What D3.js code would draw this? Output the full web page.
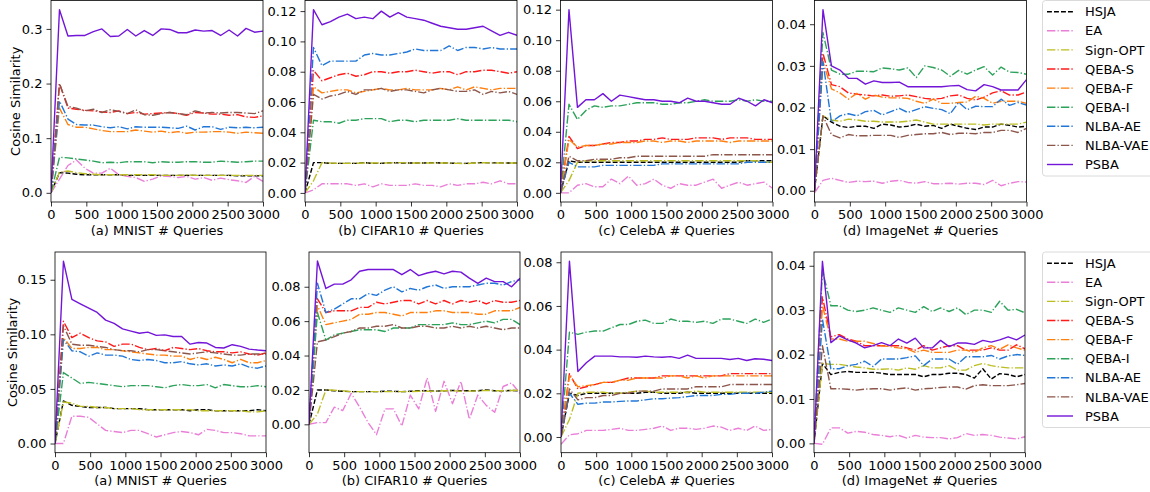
<!DOCTYPE html>
<html><head><meta charset="utf-8">
<script src="https://cdn.jsdelivr.net/npm/d3@7/dist/d3.min.js"></script>
<style>
body{margin:0;background:#fff}
svg text{font-family:"DejaVu Sans",sans-serif;font-size:13px;fill:#000}
</style></head>
<body><svg id="chart" width="1150" height="492"></svg>
<script>
// ---------------- DATA ----------------
const queries = [0,120,240,360,480,600,720,840,960,1080,1200,1320,1440,1560,1680,1800,1920,2040,2160,2280,2400,2520,2640,2760,2880,3000];
const seriesNames = ["HSJA","EA","Sign-OPT","QEBA-S","QEBA-F","QEBA-I","NLBA-AE","NLBA-VAE","PSBA"];
const xLabels = ["(a) MNIST # Queries","(b) CIFAR10 # Queries","(c) CelebA # Queries","(d) ImageNet # Queries"];
const xTicks = [0,500,1000,1500,2000,2500,3000];
const yLabel = "Cosine Similarity";

// y tick values per panel (row 1: a,b,c,d ; row 2: a,b,c,d)
const yTicksTop = [[0,0.1,0.2,0.3],[0,0.02,0.04,0.06,0.08,0.10,0.12],[0,0.02,0.04,0.06,0.08,0.10,0.12],[0,0.01,0.02,0.03,0.04]];
const yTickFmtTop = [".1f",".2f",".2f",".2f"];
const yTicksBot = [[0,0.05,0.10,0.15],[0,0.02,0.04,0.06,0.08],[0,0.02,0.04,0.06,0.08],[0,0.01,0.02,0.03,0.04]];
const yTickFmtBot = [".2f",".2f",".2f",".2f"];
// y limits per panel
const yLimTop = [[-0.0168,0.352],[-0.006,0.127],[-0.006,0.126],[-0.0027,0.0457]];
const yLimBot = [[-0.0084,0.1754],[-0.0165,0.1002],[-0.0072,0.0847],[-0.0021,0.0431]];

// series values, order = seriesNames
const topMNIST = [
 [0,0.037,0.036,0.034,0.033,0.033,0.033,0.033,0.033,0.032,0.032,0.032,0.032,0.032,0.032,0.032,0.032,0.032,0.032,0.032,0.032,0.032,0.031,0.031,0.031,0.031],
 [0,0.025,0.050,0.060,0.045,0.036,0.036,0.045,0.033,0.030,0.028,0.021,0.025,0.031,0.030,0.028,0.030,0.025,0.028,0.023,0.027,0.024,0.022,0.019,0.030,0.021],
 [0,0.038,0.040,0.037,0.035,0.034,0.033,0.033,0.033,0.033,0.033,0.033,0.033,0.032,0.032,0.032,0.033,0.032,0.032,0.032,0.032,0.032,0.032,0.032,0.032,0.032],
 [0,0.200,0.155,0.153,0.151,0.150,0.148,0.147,0.150,0.145,0.147,0.144,0.145,0.146,0.147,0.145,0.142,0.147,0.146,0.144,0.144,0.142,0.143,0.139,0.138,0.141],
 [0,0.155,0.125,0.120,0.120,0.117,0.114,0.112,0.112,0.112,0.115,0.113,0.111,0.113,0.110,0.112,0.109,0.111,0.111,0.112,0.112,0.111,0.109,0.111,0.110,0.109],
 [0,0.065,0.064,0.062,0.060,0.058,0.055,0.056,0.055,0.057,0.057,0.057,0.055,0.057,0.056,0.056,0.057,0.057,0.056,0.056,0.058,0.057,0.056,0.057,0.058,0.058],
 [0,0.168,0.135,0.125,0.124,0.124,0.121,0.119,0.121,0.117,0.121,0.120,0.120,0.120,0.119,0.118,0.122,0.115,0.121,0.121,0.116,0.120,0.119,0.120,0.119,0.120],
 [0,0.200,0.158,0.155,0.150,0.153,0.147,0.152,0.149,0.145,0.152,0.143,0.142,0.145,0.147,0.145,0.143,0.150,0.146,0.147,0.146,0.147,0.147,0.146,0.145,0.150],
 [0,0.335,0.287,0.288,0.288,0.295,0.300,0.286,0.287,0.299,0.287,0.297,0.288,0.300,0.299,0.293,0.293,0.298,0.296,0.297,0.288,0.298,0.287,0.301,0.294,0.296]
];
const topCIFAR = [
 [0,0.020,0.020,0.0195,0.0195,0.0195,0.0195,0.020,0.0195,0.0195,0.020,0.0198,0.0197,0.0197,0.0197,0.020,0.0197,0.0197,0.0195,0.0195,0.0198,0.020,0.0198,0.0198,0.0197,0.0197],
 [0,0.002,0.006,0.006,0.006,0.006,0.005,0.006,0.004,0.006,0.005,0.005,0.005,0.006,0.005,0.005,0.004,0.006,0.005,0.006,0.006,0.007,0.006,0.008,0.006,0.006],
 [0,0.008,0.020,0.0197,0.0196,0.0195,0.0196,0.0197,0.0197,0.0197,0.0198,0.020,0.0198,0.0197,0.0197,0.0197,0.0197,0.0197,0.0195,0.0193,0.0197,0.020,0.0198,0.0197,0.0197,0.0197],
 [0,0.081,0.074,0.076,0.078,0.079,0.077,0.078,0.080,0.080,0.079,0.080,0.080,0.081,0.080,0.079,0.080,0.080,0.078,0.080,0.080,0.081,0.081,0.080,0.079,0.080],
 [0,0.070,0.066,0.067,0.068,0.068,0.066,0.067,0.068,0.069,0.068,0.068,0.069,0.068,0.068,0.068,0.069,0.068,0.070,0.068,0.070,0.069,0.068,0.069,0.069,0.069],
 [0,0.048,0.047,0.047,0.046,0.048,0.048,0.049,0.049,0.049,0.047,0.048,0.048,0.047,0.048,0.048,0.048,0.048,0.049,0.048,0.048,0.048,0.048,0.048,0.048,0.047],
 [0,0.096,0.084,0.087,0.087,0.087,0.087,0.091,0.092,0.091,0.091,0.092,0.093,0.095,0.094,0.094,0.094,0.097,0.094,0.096,0.096,0.095,0.096,0.095,0.095,0.095],
 [0,0.065,0.062,0.064,0.065,0.067,0.065,0.068,0.068,0.069,0.067,0.068,0.068,0.067,0.066,0.068,0.069,0.068,0.067,0.067,0.068,0.065,0.067,0.066,0.067,0.065],
 [0,0.121,0.111,0.113,0.116,0.118,0.115,0.116,0.115,0.120,0.116,0.119,0.116,0.115,0.114,0.112,0.110,0.109,0.108,0.108,0.109,0.110,0.107,0.104,0.106,0.104]
];
const topCelebA = [
 [0,0.021,0.020,0.020,0.020,0.020,0.020,0.020,0.020,0.020,0.020,0.020,0.020,0.020,0.020,0.020,0.020,0.020,0.020,0.020,0.020,0.020,0.021,0.021,0.021,0.021],
 [0,0.000,0.005,0.006,0.004,0.004,0.009,0.006,0.011,0.005,0.006,0.009,0.005,0.003,0.006,0.005,0.005,0.007,0.009,0.003,0.005,0.007,0.005,0.006,0.007,0.003],
 [0,0.008,0.020,0.021,0.021,0.021,0.021,0.021,0.021,0.021,0.021,0.021,0.021,0.021,0.021,0.021,0.021,0.021,0.021,0.021,0.021,0.021,0.021,0.021,0.020,0.020],
 [0,0.037,0.029,0.031,0.031,0.032,0.033,0.033,0.034,0.034,0.035,0.035,0.036,0.035,0.035,0.035,0.036,0.036,0.036,0.035,0.036,0.036,0.036,0.035,0.035,0.035],
 [0,0.035,0.030,0.031,0.031,0.032,0.032,0.033,0.033,0.033,0.034,0.034,0.033,0.034,0.034,0.033,0.034,0.034,0.034,0.034,0.033,0.034,0.034,0.034,0.034,0.034],
 [0,0.058,0.048,0.054,0.057,0.056,0.057,0.057,0.058,0.059,0.059,0.059,0.058,0.058,0.059,0.059,0.060,0.061,0.060,0.060,0.060,0.061,0.060,0.061,0.060,0.060],
 [0,0.020,0.017,0.017,0.017,0.018,0.018,0.018,0.018,0.018,0.018,0.018,0.019,0.019,0.019,0.019,0.019,0.019,0.019,0.019,0.019,0.019,0.020,0.020,0.020,0.020],
 [0,0.024,0.021,0.021,0.022,0.022,0.022,0.023,0.023,0.024,0.024,0.024,0.024,0.024,0.024,0.024,0.024,0.024,0.025,0.025,0.025,0.025,0.025,0.025,0.025,0.025],
 [0,0.120,0.056,0.061,0.061,0.065,0.060,0.064,0.063,0.062,0.061,0.061,0.060,0.060,0.059,0.062,0.060,0.060,0.059,0.058,0.058,0.062,0.060,0.057,0.061,0.059]
];
const topImageNet = [
 [0,0.018,0.0165,0.0155,0.0152,0.0155,0.0155,0.015,0.016,0.0158,0.0153,0.0155,0.016,0.0155,0.0157,0.015,0.016,0.0155,0.015,0.0147,0.0153,0.0153,0.016,0.0157,0.0153,0.0155],
 [-0.0005,0.0025,0.003,0.0025,0.002,0.0023,0.0022,0.0023,0.0018,0.0023,0.0025,0.002,0.0018,0.0022,0.0017,0.0017,0.0018,0.0016,0.0018,0.0018,0.0015,0.0025,0.0012,0.0018,0.0022,0.0021],
 [0,0.018,0.017,0.0167,0.0172,0.017,0.0167,0.0167,0.0165,0.0165,0.0165,0.0167,0.017,0.0165,0.016,0.016,0.016,0.016,0.016,0.016,0.0158,0.016,0.016,0.016,0.016,0.0165],
 [0,0.033,0.0255,0.025,0.0235,0.0232,0.023,0.0228,0.023,0.0227,0.0228,0.023,0.0226,0.0222,0.022,0.0222,0.0228,0.023,0.0222,0.0218,0.0225,0.0235,0.024,0.023,0.023,0.0237],
 [0,0.031,0.0245,0.0235,0.022,0.0234,0.022,0.023,0.0225,0.0223,0.0223,0.0222,0.0215,0.021,0.022,0.021,0.021,0.0212,0.0213,0.0227,0.0222,0.021,0.0215,0.0215,0.0215,0.021],
 [0,0.038,0.029,0.028,0.028,0.0287,0.0287,0.0286,0.0295,0.0293,0.029,0.0295,0.0272,0.030,0.0296,0.029,0.0275,0.0289,0.028,0.029,0.0298,0.0278,0.0297,0.0285,0.0284,0.028],
 [0,0.031,0.0165,0.018,0.0185,0.018,0.019,0.0193,0.0182,0.019,0.0198,0.0188,0.0195,0.0202,0.0198,0.0195,0.0185,0.0212,0.0195,0.0203,0.0202,0.0202,0.022,0.0205,0.0212,0.0206],
 [0,0.018,0.0135,0.0127,0.0135,0.0132,0.0132,0.0133,0.0133,0.0133,0.0128,0.0133,0.0135,0.0137,0.0137,0.014,0.0135,0.0138,0.0138,0.0137,0.014,0.014,0.0145,0.0145,0.014,0.015],
 [0,0.0435,0.030,0.029,0.027,0.027,0.0256,0.0264,0.026,0.026,0.0261,0.025,0.025,0.025,0.025,0.025,0.0252,0.0253,0.0243,0.024,0.0255,0.025,0.0242,0.0242,0.0242,0.0267]
];
const botMNIST = [
 [0,0.039,0.035,0.034,0.033,0.033,0.033,0.032,0.032,0.032,0.032,0.031,0.031,0.031,0.031,0.031,0.030,0.031,0.031,0.030,0.030,0.030,0.030,0.030,0.031,0.030],
 [0,0.000,0.025,0.025,0.024,0.018,0.012,0.011,0.010,0.012,0.012,0.009,0.006,0.008,0.010,0.011,0.010,0.008,0.013,0.012,0.010,0.010,0.009,0.007,0.007,0.007],
 [0,0.038,0.037,0.034,0.034,0.033,0.033,0.032,0.032,0.032,0.031,0.031,0.031,0.031,0.031,0.031,0.031,0.030,0.030,0.030,0.030,0.030,0.030,0.029,0.029,0.030],
 [0,0.112,0.097,0.101,0.097,0.094,0.093,0.089,0.091,0.091,0.088,0.086,0.087,0.085,0.088,0.087,0.086,0.087,0.085,0.084,0.084,0.083,0.084,0.082,0.081,0.083],
 [0,0.097,0.087,0.087,0.088,0.088,0.086,0.086,0.085,0.084,0.083,0.082,0.081,0.081,0.080,0.080,0.077,0.079,0.077,0.079,0.077,0.074,0.077,0.074,0.074,0.076],
 [0,0.065,0.060,0.055,0.056,0.055,0.054,0.053,0.052,0.053,0.053,0.053,0.052,0.051,0.053,0.054,0.053,0.053,0.054,0.051,0.054,0.053,0.052,0.052,0.053,0.052],
 [0,0.095,0.085,0.084,0.080,0.083,0.081,0.081,0.080,0.077,0.076,0.077,0.076,0.074,0.074,0.075,0.073,0.072,0.073,0.071,0.072,0.071,0.073,0.070,0.069,0.071],
 [0,0.108,0.091,0.090,0.090,0.089,0.088,0.086,0.085,0.085,0.084,0.086,0.086,0.085,0.084,0.083,0.082,0.083,0.084,0.083,0.082,0.081,0.081,0.082,0.082,0.082],
 [0,0.167,0.132,0.128,0.124,0.120,0.113,0.110,0.105,0.103,0.101,0.102,0.099,0.0995,0.098,0.098,0.091,0.0925,0.092,0.088,0.0875,0.0905,0.089,0.0865,0.0856,0.085]
];
const botCIFAR = [
 [0,0.020,0.020,0.0195,0.0192,0.019,0.019,0.019,0.019,0.0192,0.0192,0.019,0.0192,0.0195,0.0195,0.0193,0.0195,0.0197,0.0195,0.0195,0.0195,0.020,0.0195,0.0195,0.0197,0.0195],
 [0,0.001,0.001,0.010,0.008,0.018,0.010,0.001,-0.006,0.009,0.009,-0.001,0.017,0.009,0.027,0.0075,0.025,0.012,0.025,0.003,0.017,0.011,0.007,0.022,0.024,0.018],
 [0,0.006,0.020,0.0198,0.0195,0.019,0.019,0.019,0.019,0.019,0.019,0.019,0.019,0.0192,0.0192,0.0193,0.0195,0.0195,0.0193,0.0193,0.0195,0.0197,0.0195,0.0195,0.0197,0.0198],
 [0,0.073,0.065,0.066,0.066,0.066,0.068,0.068,0.071,0.070,0.071,0.072,0.072,0.070,0.072,0.070,0.072,0.070,0.072,0.071,0.072,0.070,0.072,0.071,0.071,0.072],
 [0,0.069,0.058,0.059,0.060,0.061,0.064,0.064,0.065,0.065,0.064,0.063,0.065,0.065,0.065,0.066,0.066,0.065,0.065,0.065,0.064,0.064,0.066,0.066,0.066,0.068],
 [0,0.065,0.049,0.052,0.053,0.054,0.055,0.055,0.055,0.054,0.056,0.056,0.056,0.058,0.058,0.058,0.058,0.059,0.058,0.058,0.059,0.060,0.059,0.061,0.061,0.058],
 [0,0.082,0.065,0.067,0.070,0.073,0.073,0.076,0.075,0.078,0.080,0.077,0.079,0.078,0.080,0.081,0.079,0.080,0.080,0.080,0.081,0.082,0.082,0.081,0.083,0.084],
 [0,0.048,0.049,0.051,0.053,0.054,0.056,0.056,0.057,0.057,0.058,0.056,0.056,0.057,0.057,0.056,0.056,0.057,0.056,0.057,0.056,0.057,0.056,0.055,0.056,0.056],
 [0,0.095,0.079,0.0815,0.0815,0.084,0.089,0.090,0.090,0.090,0.090,0.087,0.090,0.0865,0.088,0.089,0.0875,0.089,0.0885,0.085,0.082,0.085,0.083,0.083,0.080,0.085]
];
const botCelebA = [
 [0,0.020,0.019,0.020,0.020,0.020,0.020,0.020,0.020,0.020,0.0205,0.0205,0.020,0.020,0.020,0.0205,0.020,0.020,0.020,0.020,0.020,0.020,0.020,0.020,0.020,0.020],
 [-0.0033,0.001,0.0015,0.003,0.003,0.003,0.0035,0.004,0.003,0.003,0.0035,0.004,0.005,0.003,0.004,0.004,0.0035,0.004,0.005,0.0045,0.003,0.004,0.003,0.005,0.003,0.0035],
 [0,0.008,0.020,0.0205,0.0205,0.0205,0.020,0.020,0.0205,0.021,0.021,0.0205,0.0205,0.0205,0.0205,0.0205,0.021,0.0205,0.0205,0.0205,0.0205,0.0205,0.0205,0.0205,0.0205,0.0205],
 [0,0.029,0.022,0.023,0.024,0.025,0.025,0.026,0.027,0.027,0.027,0.027,0.028,0.028,0.028,0.028,0.028,0.028,0.028,0.028,0.029,0.029,0.029,0.029,0.029,0.029],
 [0,0.028,0.023,0.0235,0.024,0.025,0.025,0.026,0.026,0.027,0.027,0.027,0.027,0.028,0.028,0.027,0.028,0.027,0.028,0.028,0.028,0.028,0.028,0.028,0.028,0.028],
 [0,0.048,0.047,0.048,0.0485,0.0485,0.050,0.0515,0.0515,0.053,0.0535,0.052,0.052,0.054,0.053,0.053,0.0525,0.053,0.052,0.054,0.054,0.053,0.052,0.054,0.0525,0.054],
 [0,0.020,0.015,0.0155,0.0155,0.016,0.016,0.0163,0.0165,0.0165,0.017,0.0175,0.0175,0.0178,0.018,0.0185,0.019,0.019,0.019,0.0195,0.0195,0.020,0.020,0.020,0.0205,0.021],
 [0,0.022,0.017,0.018,0.018,0.019,0.019,0.020,0.020,0.021,0.021,0.021,0.022,0.022,0.022,0.022,0.023,0.023,0.023,0.023,0.024,0.024,0.024,0.024,0.024,0.024],
 [0,0.0805,0.030,0.034,0.037,0.037,0.037,0.0367,0.0367,0.0365,0.037,0.0367,0.0365,0.0368,0.036,0.0375,0.036,0.036,0.036,0.036,0.0355,0.036,0.035,0.0358,0.0356,0.035]
];
const botImageNet = [
 [0,0.018,0.0155,0.016,0.0162,0.016,0.016,0.016,0.0158,0.0155,0.0155,0.0155,0.0155,0.015,0.0155,0.0155,0.0158,0.0158,0.0155,0.0147,0.0168,0.0145,0.0157,0.0155,0.015,0.0155],
 [0,-0.0002,0.0035,0.0035,0.0023,0.0027,0.0025,0.002,0.0018,0.0015,0.0018,0.0012,0.0018,0.0014,0.0013,0.0013,0.001,0.0013,0.0022,0.0018,0.002,0.0018,0.0014,0.0012,0.001,0.0015],
 [0,0.018,0.0178,0.0178,0.0175,0.0172,0.017,0.0167,0.0167,0.0168,0.0165,0.017,0.0167,0.0175,0.017,0.017,0.0175,0.0165,0.0165,0.0175,0.018,0.0175,0.0172,0.017,0.017,0.017],
 [0,0.033,0.024,0.0245,0.0235,0.023,0.022,0.022,0.022,0.022,0.022,0.0215,0.021,0.022,0.021,0.0215,0.022,0.022,0.021,0.021,0.021,0.0215,0.021,0.021,0.0222,0.0213],
 [0,0.031,0.0235,0.0235,0.023,0.023,0.023,0.0225,0.022,0.0218,0.0215,0.0213,0.0205,0.021,0.0205,0.0205,0.0205,0.021,0.021,0.0205,0.0215,0.022,0.0212,0.0222,0.0215,0.021],
 [0,0.039,0.031,0.031,0.030,0.0297,0.030,0.0305,0.030,0.0295,0.0305,0.030,0.0295,0.0308,0.0297,0.0305,0.0297,0.0305,0.029,0.030,0.030,0.0295,0.032,0.030,0.0302,0.0294],
 [0,0.028,0.0168,0.0168,0.0175,0.0178,0.0185,0.0173,0.019,0.019,0.019,0.0193,0.0197,0.0175,0.019,0.019,0.019,0.0178,0.0195,0.0195,0.0195,0.0198,0.019,0.0197,0.020,0.0198],
 [0,0.022,0.0123,0.0123,0.0122,0.012,0.0122,0.0123,0.0123,0.012,0.0123,0.0125,0.012,0.0123,0.0124,0.0126,0.0127,0.0127,0.0122,0.013,0.0132,0.013,0.013,0.013,0.0132,0.0135],
 [0,0.041,0.0227,0.0242,0.0233,0.0226,0.0215,0.022,0.0227,0.022,0.0235,0.0226,0.0237,0.0215,0.0215,0.0232,0.0218,0.0226,0.0226,0.0223,0.0232,0.0228,0.0233,0.024,0.0233,0.0244]
];

// ---------------- STYLE / LAYOUT ----------------
const colors = ["#000000","#ea7fd8","#bcbd22","#ff1a1a","#ff7f0e","#2ca25a","#2277d6","#8c564b","#7315d8"];
const dashes = ["4.9,2.1","8.4,2.1,1.3,2.1","8.4,2.1,1.3,2.1","8.4,2.1,1.3,2.1","8.4,2.1,1.3,2.1","8.4,2.1,1.3,2.1","8.4,2.1,1.3,2.1","8.4,2.1,1.3,2.1",null];

const rows = [
  {top:0.5, bottom:202, lefts:[51,305,560.5,814.5], width:212, data:[topMNIST,topCIFAR,topCelebA,topImageNet], ticks:yTicksTop, fmt:yTickFmtTop, lims:yLimTop, ylabX:19.5, legendTop:0.5},
  {top:252, bottom:452.7, lefts:[55,309,561,814], width:211, data:[botMNIST,botCIFAR,botCelebA,botImageNet], ticks:yTicksBot, fmt:yTickFmtBot, lims:yLimBot, ylabX:17, legendTop:252}
];

const svg = d3.select("#chart");

rows.forEach((row, r) => {
  const h = row.bottom - row.top;
  row.lefts.forEach((left, p) => {
    const w = row.width;
    const x = d3.scaleLinear().domain([0,3000]).range([0,w]);
    const y = d3.scaleLinear().domain(row.lims[p]).range([h,0]);
    const g = svg.append("g").attr("transform",`translate(${left},${row.top})`);
    const clipId = `clip${r}${p}`;
    g.append("clipPath").attr("id",clipId).append("rect").attr("width",w).attr("height",h);

    const line = d3.line().x((d,i)=>x(queries[i])).y(d=>y(d));
    const lg = g.append("g").attr("clip-path",`url(#${clipId})`);
    row.data[p].forEach((vals, s) => {
      lg.append("path").datum(vals)
        .attr("d", line)
        .attr("fill","none")
        .attr("stroke", colors[s])
        .attr("stroke-width", 1.4)
        .attr("stroke-linejoin","round")
        .attr("stroke-dasharray", dashes[s]);
    });

    // axes
    const xa = g.append("g").attr("transform",`translate(0,${h})`)
      .call(d3.axisBottom(x).tickValues(xTicks).tickSize(4.5).tickPadding(3.5).tickFormat(d3.format("d")));
    const ya = g.append("g")
      .call(d3.axisLeft(y).tickValues(row.ticks[p]).tickSize(4.5).tickPadding(4).tickFormat(d3.format(row.fmt[p])));
    [xa,ya].forEach(a => {
      a.select(".domain").remove();
      a.selectAll(".tick line").attr("stroke","#000").attr("stroke-width",0.8);
      a.selectAll(".tick text").attr("font-size",13).attr("font-family","DejaVu Sans").attr("fill","#000");
    });
    // spines
    g.append("rect").attr("width",w).attr("height",h).attr("fill","none").attr("stroke","#000").attr("stroke-width",0.8);

    // x label
    g.append("text").attr("x",w/2).attr("y",h+32.5).attr("text-anchor","middle").text(xLabels[p]);

    if (p === 0) {
      svg.append("text")
        .attr("transform",`translate(${row.ylabX},${row.top + h/2}) rotate(-90)`)
        .attr("text-anchor","middle").text(yLabel);
    }
  });

  // legend
  const lgx = 1042.5, lgy = row.legendTop, step = 19.1;
  const leg = svg.append("g");
  leg.append("rect").attr("x",lgx).attr("y",lgy).attr("width",130).attr("height",175.5)
    .attr("rx",3).attr("fill","#fff").attr("fill-opacity",0.8).attr("stroke","#d0d0d0").attr("stroke-width",0.8);
  seriesNames.forEach((name, s) => {
    const cy = lgy + 11.2 + s*step;
    leg.append("line").attr("x1",lgx+4.5).attr("x2",lgx+30.5).attr("y1",cy).attr("y2",cy)
      .attr("stroke",colors[s]).attr("stroke-width",1.4).attr("stroke-dasharray",dashes[s]);
    leg.append("text").attr("x",lgx+42.5).attr("y",cy).attr("dy","0.36em").text(name);
  });
});
</script>
</body></html>
